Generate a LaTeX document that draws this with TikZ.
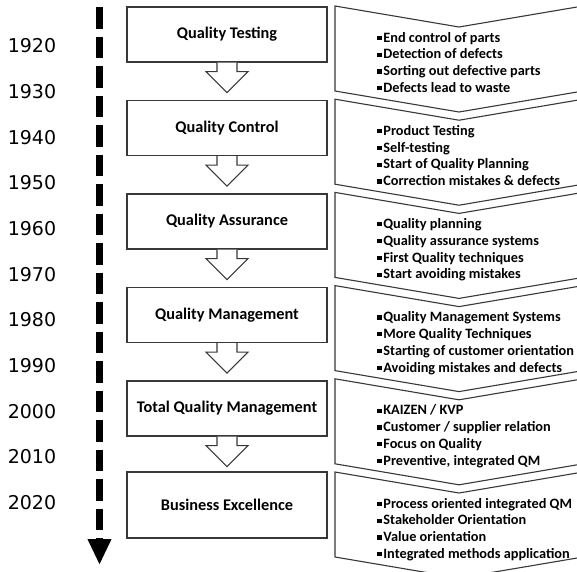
\documentclass[tikz,border=0pt]{standalone}
\usepackage{fontspec}
\setmainfont{Carlito}
\newfontfamily\yearfont{DejaVu Sans}
\usetikzlibrary{arrows.meta,calc}

% small square bullet in front of each point
\newcommand\sqbullet{\rule[2pt]{4.3pt}{4.3pt}\hspace{1.9pt}}

% chevron panel #1 with top edge at #2 and its list of points #3
\newcommand\stagepoints[3]{%
  \draw[chevron] (335,#2) -- (459,#2+21) -- (583,#2) -- (583,#2+85)
    -- (459,#2+106) -- (335,#2+85) -- cycle;
  \foreach \t [count=\k from 0] in {#3}
    \node[point] (p#1-\k) at (377,#2+36+16.8*\k) {\sqbullet\t};
}

\begin{document}
\begin{tikzpicture}[x=1pt,y=-1pt,
  stage/.style={draw=black!78, line width=1.3pt, fill=white,
    minimum width=200pt, minimum height=55pt, inner sep=0pt,
    font=\fontsize{16.3}{18}\selectfont\bfseries},
  flowarrow/.style={draw=black!78, line width=1.1pt, fill=white, line join=miter},
  chevron/.style={draw=black!78, line width=1.1pt, fill=white},
  point/.style={anchor=base west, inner sep=0pt,
    font=\fontsize{14.3}{16.8}\selectfont\bfseries},
  year/.style={font=\yearfont\fontsize{19}{22}\selectfont, inner sep=0pt},
  timeline/.style={line width=7pt, dash pattern=on 21.5pt off 8pt,
    -{Triangle[width=22pt,length=26pt]}}
]
\useasboundingbox (0,0) rectangle (577,571);
\clip (0,0) rectangle (577,571);

% decades along the time axis
\foreach \yr [count=\k from 0] in {1920,1930,...,2020}
  \node[year] (y\yr) at (32,46+45.65*\k) {\yr};

% time axis
\coordinate (tltop) at (99.5,7);
\coordinate (tlend) at (99.5,565);
\draw[timeline] (tltop) -- (tlend);

% stages
\node[stage] (b1) at (227,34.5)  {Quality Testing};
\node[stage] (b2) at (227,128)   {Quality Control};
\node[stage] (b3) at (227,221.5) {Quality Assurance};
\node[stage] (b4) at (227,315)   {Quality Management};
\node[stage] (b5) at (227,408.5) {Total Quality Management};
\node[stage, minimum height=66pt] (b6) at (227,505) {Business Excellence};

% block arrows from one stage to the next
\foreach \i in {1,...,5}
  \draw[flowarrow] ($(b\i.south)+(-10,0)$) -- ++(0,9) -- ++(-11,0)
    -- ++(21,21) -- ++(21,-21) -- ++(-11,0) -- ++(0,-9);

% characteristics of each stage
\stagepoints{1}{6}{End control of parts, Detection of defects,
  Sorting out defective parts, Defects lead to waste}
\stagepoints{2}{99.2}{Product Testing, Self-testing,
  Start of Quality Planning, Correction mistakes \& defects}
\stagepoints{3}{192.4}{Quality planning, Quality assurance systems,
  First Quality techniques, Start avoiding mistakes}
\stagepoints{4}{285.6}{Quality Management Systems, More Quality Techniques,
  Starting of customer orientation, Avoiding mistakes and defects}
\stagepoints{5}{378.8}{KAIZEN / KVP, Customer / supplier relation,
  Focus on Quality, {Preventive, integrated QM}}
\stagepoints{6}{472}{Process oriented integrated QM, Stakeholder Orientation,
  Value orientation, Integrated methods application}
\end{tikzpicture}
\end{document}
